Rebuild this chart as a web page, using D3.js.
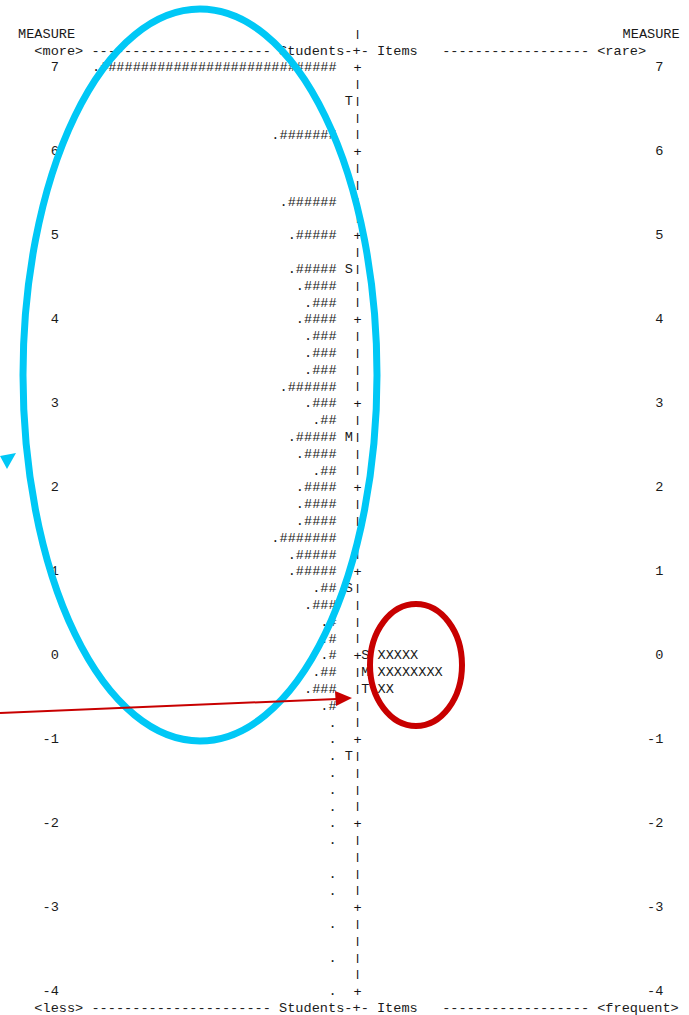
<!DOCTYPE html>
<html>
<head>
<meta charset="utf-8">
<script src="https://cdn.jsdelivr.net/npm/d3@7"></script>
<style>
  html, body { margin: 0; padding: 0; background: #fff; }
  svg { display: block; }
  text { font-family: "Liberation Mono", "Courier New", monospace; font-size: 13.6px; fill: #1a1a1a; }
  .axis { opacity: 0.99; }
</style>
</head>
<body>
<svg id="map" width="689" height="1015"></svg>
<script>
// Wright map: students (left) and items (right) on a shared logit scale.
const measureTicks = [7, 6, 5, 4, 3, 2, 1, 0, -1, -2, -3, -4];

// One entry per 0.2-logit row from 7 down to -4:
// number of '#' after the leading '.', 0 = '.' only, null = no students.
const studentHashes = [
  29, null, null, null, 7, null, null, null, 6, null,
  5, null, 5, 4, 3, 4, 3, 3, 3, 6,
  3, 2, 5, 4, 2, 4, 4, 4, 7, 5,
  5, 2, 3, 1, 1, 1, 2, 3, 1, 0,
  0, 0, 0, 0, 0, 0, 0, null, 0, 0,
  null, 0, null, 0, null, 0
];

// Student distribution markers (mean / 1 SD / 2 SD)
const personMarkerLevels = [6.6, 4.6, 2.6, 0.8, -1.2];
const personMarkerLabels = ["T", "S", "M", "S", "T"];

// Item distribution
const itemLevels = [0, -0.2, -0.4];
const itemCounts = [5, 8, 2];
const itemMarkerLabels = ["S", "M", "T"];

const svg = d3.select("#map");

const rowStep = 0.2;
const y = d3.scaleLinear().domain([7, -4]).range([67, 991]);
// character-cell columns of the fixed-width layout
const col = d3.scaleLinear().domain([0, 1]).range([18, 26.17]);
const axisCol = 41;

const txt = svg.append("g");
function put(c, m, s, anchor) {
  txt.append("text")
    .attr("x", col(c))
    .attr("y", y(m))
    .attr("dy", "0.33em")
    .attr("text-anchor", anchor || "start")
    .attr("xml:space", "preserve")
    .text(s);
}

// Vertical axis glyph, squeezed a little so successive rows leave gaps
const axisLayer = svg.append("g").attr("class", "axis");
function axisGlyph(m, ch) {
  axisLayer.append("text")
    .attr("transform", `translate(${col(axisCol) + 0.5},${y(m)}) scale(1,${ch === "|" ? 0.72 : 1})`)
    .attr("dy", "0.33em")
    .style("fill", "#111")
    .text(ch);
}

// Header and footer lines
put(0, 7.4, "MEASURE");
axisGlyph(7.4, "|");
put(74, 7.4, "MEASURE");
const dashesL = "-".repeat(22), dashesR = "-".repeat(18);
put(2, 7.2, "<more> " + dashesL + " Students-+- Items   " + dashesR + " <rare>");
put(2, -4.2, "<less> " + dashesL + " Students-+- Items   " + dashesR + " <frequent>");

// Axis: '+' at whole logits, '|' between
const rows = d3.range(0, studentHashes.length).map(i => 7 - i * rowStep);
rows.forEach(m => axisGlyph(m, Math.abs(m - Math.round(m)) < 1e-6 ? "+" : "|"));

// Measure labels, both sides
txt.selectAll("text.tickL").data(measureTicks).join("text")
  .attr("class", "tickL")
  .attr("x", col(5)).attr("y", d => y(d)).attr("dy", "0.33em")
  .attr("text-anchor", "end").text(d => d);
txt.selectAll("text.tickR").data(measureTicks).join("text")
  .attr("class", "tickR")
  .attr("x", col(79)).attr("y", d => y(d)).attr("dy", "0.33em")
  .attr("text-anchor", "end").text(d => d);

// Student rows, right-aligned against the marker column
const studentData = rows.map((m, i) => ({ m, n: studentHashes[i] })).filter(d => d.n !== null);
txt.selectAll("text.stu").data(studentData).join("text")
  .attr("class", "stu")
  .attr("x", col(39)).attr("y", d => y(d.m)).attr("dy", "0.33em")
  .attr("text-anchor", "end")
  .text(d => "." + "#".repeat(d.n));

// Student markers
txt.selectAll("text.pm").data(personMarkerLevels).join("text")
  .attr("class", "pm")
  .attr("x", col(axisCol - 1)).attr("y", d => y(d)).attr("dy", "0.33em")
  .text((d, i) => personMarkerLabels[i]);

// Item markers and items
txt.selectAll("text.im").data(itemLevels).join("text")
  .attr("class", "im")
  .attr("x", col(axisCol + 1)).attr("y", d => y(d)).attr("dy", "0.33em")
  .text((d, i) => itemMarkerLabels[i]);
txt.selectAll("text.it").data(itemLevels).join("text")
  .attr("class", "it")
  .attr("x", col(axisCol + 3)).attr("y", d => y(d)).attr("dy", "0.33em")
  .text((d, i) => "X".repeat(itemCounts[i]));

// Highlight annotations
const cyan = "#00c8f6", red = "#c80000";
const notes = svg.append("g");
notes.append("ellipse")
  .attr("cx", 200).attr("cy", 375).attr("rx", 177).attr("ry", 366)
  .attr("fill", "none").attr("stroke", cyan).attr("stroke-width", 7);
notes.append("path")
  .attr("d", "M0,456 L16,453 L7,469 Z")
  .attr("fill", cyan);
notes.append("ellipse")
  .attr("cx", 416).attr("cy", 665).attr("rx", 46).attr("ry", 61)
  .attr("fill", "none").attr("stroke", red).attr("stroke-width", 6);
notes.append("line")
  .attr("x1", 0).attr("y1", 713).attr("x2", 337).attr("y2", 699)
  .attr("stroke", red).attr("stroke-width", 2);
notes.append("path")
  .attr("d", "M352,698 L335,691 L336,706 Z")
  .attr("fill", red);
</script>
</body>
</html>
